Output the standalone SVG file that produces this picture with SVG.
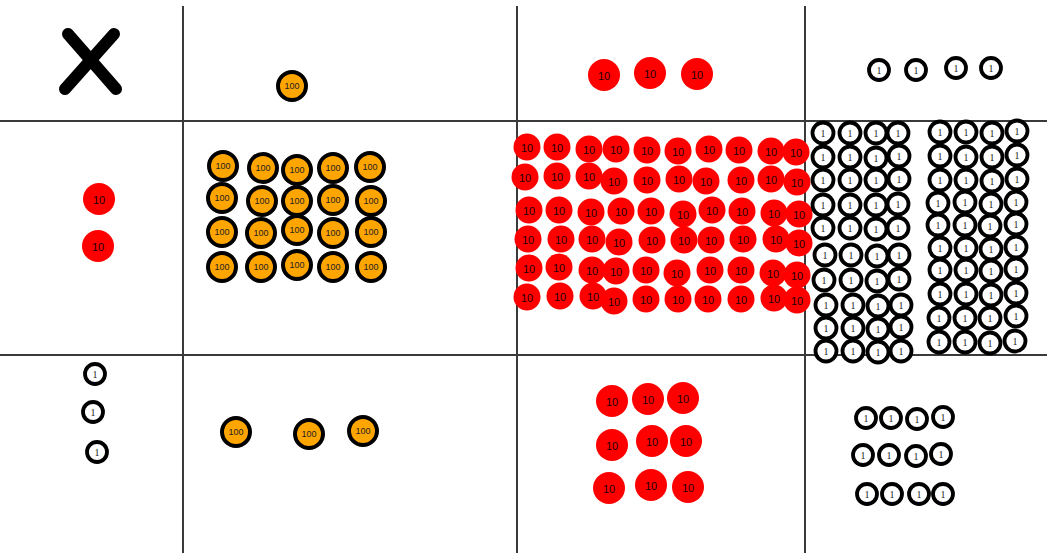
<svg xmlns="http://www.w3.org/2000/svg" xmlns:xlink="http://www.w3.org/1999/xlink" width="1047" height="553" viewBox="0 0 1047 553">
<style>
.grid{stroke:#3a3a3a;stroke-width:2;fill:none}
.c100{fill:#ffa500;stroke:#000;stroke-width:4}
.c10{fill:#ff0000;stroke:none}
.c1{fill:#fff;stroke:#000;stroke-width:3.8}
.t100{font-family:"Liberation Sans",Arial,sans-serif;font-size:9px;fill:#222;text-anchor:middle}
.t10{font-family:"Liberation Sans",Arial,sans-serif;font-size:11px;fill:#200;text-anchor:middle}
.t1{font-family:"Liberation Serif","Times New Roman",serif;font-size:10px;fill:#222;text-anchor:middle}
</style>
<defs>
<g id="h"><circle class="c100" r="14"/><text class="t100" y="3.2">100</text></g>
<g id="tb"><circle class="c10" r="16"/><text class="t10" y="4.5">10</text></g>
<g id="ts"><circle class="c10" r="13.5"/><text class="t10" y="4.5">10</text></g>
<g id="o"><circle class="c1" r="10"/><text class="t1" y="3.5">1</text></g>
<g id="os"><circle class="c1" r="10.5"/><text class="t1" y="3.5">1</text></g>
</defs>
<rect width="1047" height="553" fill="#fff"/>
<g id="grid">
<line class="grid" x1="183" y1="6" x2="183" y2="553"/>
<line class="grid" x1="517" y1="6" x2="517" y2="553"/>
<line class="grid" x1="805" y1="6" x2="805" y2="553"/>
<line class="grid" x1="0" y1="121" x2="1047" y2="121"/>
<line class="grid" x1="0" y1="355" x2="1047" y2="355"/>
</g>
<g id="times" stroke="#000" stroke-width="12" stroke-linecap="round">
<line x1="68" y1="34" x2="116" y2="89"/>
<line x1="114" y1="34" x2="65" y2="89"/>
</g>
<g id="top100"><use href="#h" x="292" y="86"/></g>
<g id="top10"><use href="#tb" x="604" y="75"/><use href="#tb" x="650" y="73"/><use href="#tb" x="697" y="74"/></g>
<g id="top1"><use href="#o" x="879" y="70"/><use href="#o" x="916" y="70"/><use href="#o" x="956" y="68"/><use href="#o" x="991" y="68"/></g>
<g id="left10"><use href="#tb" x="99" y="199"/><use href="#tb" x="98" y="246"/></g>
<g id="left1"><use href="#o" x="95" y="374"/><use href="#o" x="93" y="412"/><use href="#o" x="97" y="452"/></g>
<g id="cell-100x20">
<use href="#h" x="223" y="166"/><use href="#h" x="263" y="168"/><use href="#h" x="297" y="170"/><use href="#h" x="333" y="168"/><use href="#h" x="370" y="167"/>
<use href="#h" x="222" y="198"/><use href="#h" x="262" y="201"/><use href="#h" x="297" y="201"/><use href="#h" x="333" y="200"/><use href="#h" x="371" y="201"/>
<use href="#h" x="222" y="232"/><use href="#h" x="261" y="233"/><use href="#h" x="297" y="230"/><use href="#h" x="333" y="233"/><use href="#h" x="371" y="232"/>
<use href="#h" x="222" y="267"/><use href="#h" x="261" y="267"/><use href="#h" x="297" y="265"/><use href="#h" x="333" y="267"/><use href="#h" x="371" y="267"/>
</g>
<g id="cell-30x20">
<use href="#ts" x="527" y="147"/><use href="#ts" x="557" y="147"/><use href="#ts" x="589" y="149"/><use href="#ts" x="616" y="149"/><use href="#ts" x="647" y="150"/><use href="#ts" x="678" y="151"/><use href="#ts" x="709" y="149"/><use href="#ts" x="739" y="150"/><use href="#ts" x="771" y="151"/><use href="#ts" x="796" y="152"/>
<use href="#ts" x="525" y="177"/><use href="#ts" x="557" y="176"/><use href="#ts" x="589" y="176"/><use href="#ts" x="614" y="181"/><use href="#ts" x="647" y="180"/><use href="#ts" x="679" y="179"/><use href="#ts" x="706" y="181"/><use href="#ts" x="741" y="180"/><use href="#ts" x="771" y="179"/><use href="#ts" x="797" y="182"/>
<use href="#ts" x="529" y="210"/><use href="#ts" x="559" y="210"/><use href="#ts" x="591" y="212"/><use href="#ts" x="621" y="211"/><use href="#ts" x="651" y="211"/><use href="#ts" x="683" y="214"/><use href="#ts" x="712" y="210"/><use href="#ts" x="742" y="211"/><use href="#ts" x="774" y="213"/><use href="#ts" x="799" y="214"/>
<use href="#ts" x="528" y="239"/><use href="#ts" x="561" y="239"/><use href="#ts" x="592" y="239"/><use href="#ts" x="619" y="242"/><use href="#ts" x="652" y="240"/><use href="#ts" x="684" y="240"/><use href="#ts" x="711" y="240"/><use href="#ts" x="743" y="239"/><use href="#ts" x="776" y="239"/><use href="#ts" x="799" y="243"/>
<use href="#ts" x="529" y="268"/><use href="#ts" x="559" y="267"/><use href="#ts" x="592" y="270"/><use href="#ts" x="616" y="271"/><use href="#ts" x="646" y="270"/><use href="#ts" x="677" y="273"/><use href="#ts" x="710" y="270"/><use href="#ts" x="741" y="270"/><use href="#ts" x="773" y="273"/><use href="#ts" x="797" y="275"/>
<use href="#ts" x="527" y="297"/><use href="#ts" x="560" y="296"/><use href="#ts" x="593" y="296"/><use href="#ts" x="614" y="301"/><use href="#ts" x="646" y="299"/><use href="#ts" x="678" y="299"/><use href="#ts" x="708" y="299"/><use href="#ts" x="741" y="299"/><use href="#ts" x="774" y="298"/><use href="#ts" x="797" y="300"/>
</g>
<g id="cell-4x20">
<g id="ones-left">
<use href="#os" x="823" y="133"/><use href="#os" x="850" y="133"/><use href="#os" x="876" y="133"/><use href="#os" x="898" y="133"/>
<use href="#os" x="823" y="157"/><use href="#os" x="850" y="157"/><use href="#os" x="876" y="158"/><use href="#os" x="899" y="156"/>
<use href="#os" x="823" y="180"/><use href="#os" x="850" y="180"/><use href="#os" x="876" y="180"/><use href="#os" x="899" y="179"/>
<use href="#os" x="823" y="205"/><use href="#os" x="850" y="205"/><use href="#os" x="876" y="205"/><use href="#os" x="898" y="204"/>
<use href="#os" x="823" y="228"/><use href="#os" x="850" y="228"/><use href="#os" x="876" y="229"/><use href="#os" x="898" y="228"/>
<use href="#os" x="825" y="255"/><use href="#os" x="851" y="255"/><use href="#os" x="877" y="256"/><use href="#os" x="899" y="255"/>
<use href="#os" x="824" y="280"/><use href="#os" x="851" y="280"/><use href="#os" x="877" y="281"/><use href="#os" x="899" y="279"/>
<use href="#os" x="826" y="305"/><use href="#os" x="853" y="305"/><use href="#os" x="878" y="306"/><use href="#os" x="901" y="305"/>
<use href="#os" x="826" y="328"/><use href="#os" x="853" y="328"/><use href="#os" x="878" y="329"/><use href="#os" x="901" y="327"/>
<use href="#os" x="826" y="351"/><use href="#os" x="853" y="351"/><use href="#os" x="878" y="352"/><use href="#os" x="901" y="351"/>
</g>
<g id="ones-right">
<use href="#os" x="940" y="132"/><use href="#os" x="966" y="132"/><use href="#os" x="992" y="133"/><use href="#os" x="1017" y="131"/>
<use href="#os" x="940" y="156"/><use href="#os" x="966" y="157"/><use href="#os" x="992" y="157"/><use href="#os" x="1017" y="155"/>
<use href="#os" x="940" y="180"/><use href="#os" x="966" y="180"/><use href="#os" x="992" y="181"/><use href="#os" x="1017" y="179"/>
<use href="#os" x="938" y="203"/><use href="#os" x="965" y="202"/><use href="#os" x="991" y="204"/><use href="#os" x="1016" y="202"/>
<use href="#os" x="938" y="225"/><use href="#os" x="965" y="225"/><use href="#os" x="990" y="226"/><use href="#os" x="1016" y="224"/>
<use href="#os" x="940" y="248"/><use href="#os" x="966" y="248"/><use href="#os" x="991" y="249"/><use href="#os" x="1016" y="247"/>
<use href="#os" x="940" y="270"/><use href="#os" x="966" y="270"/><use href="#os" x="991" y="271"/><use href="#os" x="1016" y="269"/>
<use href="#os" x="940" y="294"/><use href="#os" x="966" y="294"/><use href="#os" x="991" y="295"/><use href="#os" x="1016" y="293"/>
<use href="#os" x="939" y="318"/><use href="#os" x="965" y="318"/><use href="#os" x="990" y="318"/><use href="#os" x="1016" y="316"/>
<use href="#os" x="939" y="342"/><use href="#os" x="965" y="342"/><use href="#os" x="990" y="343"/><use href="#os" x="1015" y="341"/>
</g>
</g>
<g id="cell-100x3"><use href="#h" x="236" y="432"/><use href="#h" x="309" y="434"/><use href="#h" x="363" y="431"/></g>
<g id="cell-30x3">
<use href="#tb" x="612" y="401"/><use href="#tb" x="648" y="399"/><use href="#tb" x="683" y="398"/>
<use href="#tb" x="612" y="445"/><use href="#tb" x="652" y="441"/><use href="#tb" x="686" y="441"/>
<use href="#tb" x="609" y="488"/><use href="#tb" x="651" y="485"/><use href="#tb" x="688" y="487"/>
</g>
<g id="cell-4x3">
<use href="#o" x="866" y="418"/><use href="#o" x="891" y="418"/><use href="#o" x="917" y="419"/><use href="#o" x="943" y="417"/>
<use href="#o" x="863" y="455"/><use href="#o" x="889" y="455"/><use href="#o" x="916" y="456"/><use href="#o" x="941" y="454"/>
<use href="#o" x="867" y="494"/><use href="#o" x="892" y="494"/><use href="#o" x="919" y="494"/><use href="#o" x="943" y="494"/>
</g>
</svg>
